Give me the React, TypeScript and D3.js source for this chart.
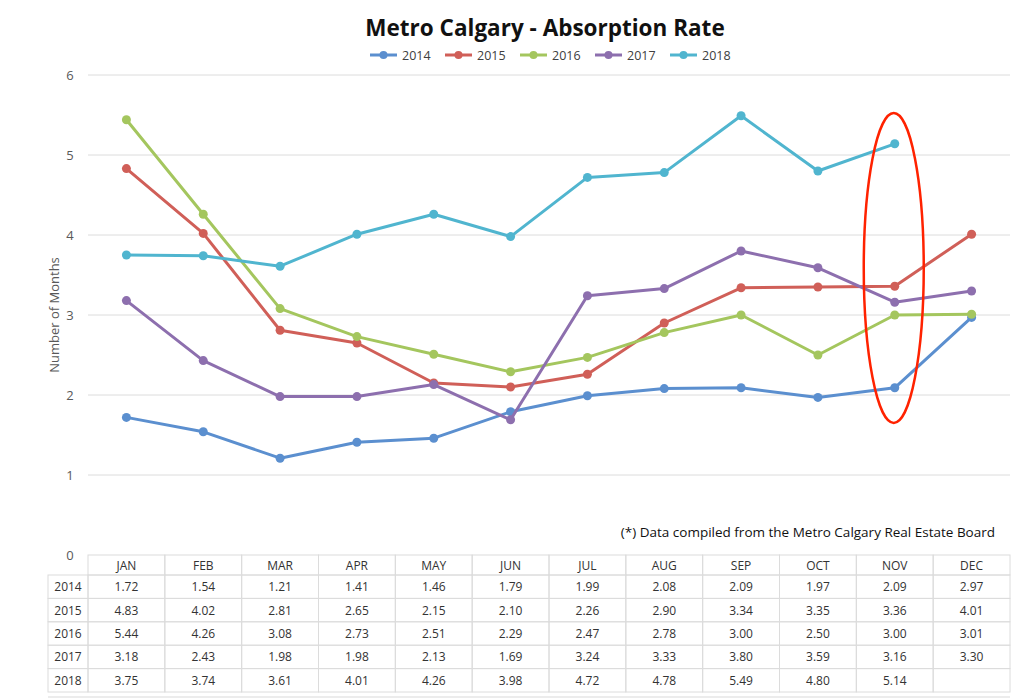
import React, { useRef, useEffect } from 'react';
import * as d3 from 'd3';

const W = 1024;
const H = 699;

const MONTHS = ['JAN', 'FEB', 'MAR', 'APR', 'MAY', 'JUN', 'JUL', 'AUG', 'SEP', 'OCT', 'NOV', 'DEC'];
const YEARS = ['2014', '2015', '2016', '2017', '2018'];
const COLORS = ['#5B8FCF', '#D05F58', '#A4C65E', '#8D6FAE', '#50B5CF'];

const V2014 = [1.72, 1.54, 1.21, 1.41, 1.46, 1.79, 1.99, 2.08, 2.09, 1.97, 2.09, 2.97];
const V2015 = [4.83, 4.02, 2.81, 2.65, 2.15, 2.1, 2.26, 2.9, 3.34, 3.35, 3.36, 4.01];
const V2016 = [5.44, 4.26, 3.08, 2.73, 2.51, 2.29, 2.47, 2.78, 3.0, 2.5, 3.0, 3.01];
const V2017 = [3.18, 2.43, 1.98, 1.98, 2.13, 1.69, 3.24, 3.33, 3.8, 3.59, 3.16, 3.3];
const V2018: (number | null)[] = [3.75, 3.74, 3.61, 4.01, 4.26, 3.98, 4.72, 4.78, 5.49, 4.8, 5.14, null];
const SERIES = [V2014, V2015, V2016, V2017, V2018];

const Y_TICKS = [0, 1, 2, 3, 4, 5, 6];
const FONT = '"Open Sans", "Liberation Sans", sans-serif';

export default function App() {
  const svgRef = useRef<SVGSVGElement>(null);

  useEffect(() => {
    if (!svgRef.current) return;
    const svg = d3.select(svgRef.current);
    svg.selectAll('*').remove();

    const x = d3.scaleBand<string>().domain(MONTHS).range([88, 1010]);
    const y = d3.scaleLinear().domain([0, 6]).range([555, 75]);

    // gridlines
    svg.append('g')
      .selectAll('line')
      .data(Y_TICKS.filter((t) => t > 0))
      .join('line')
      .attr('x1', 88)
      .attr('x2', 1010)
      .attr('y1', (d) => y(d))
      .attr('y2', (d) => y(d))
      .attr('stroke', '#dcdcdc')
      .attr('stroke-width', 1);

    // y tick labels
    svg.append('g')
      .selectAll('text')
      .data(Y_TICKS)
      .join('text')
      .attr('x', 70)
      .attr('y', (d) => y(d) + 4.5)
      .attr('text-anchor', 'middle')
      .attr('fill', '#595959')
      .attr('font-size', 13)
      .attr('font-family', FONT)
      .text((d) => d);

    svg.append('text')
      .attr('transform', `translate(59, ${y(3)}) rotate(-90)`)
      .attr('text-anchor', 'middle')
      .attr('fill', '#595959')
      .attr('font-size', 13)
      .attr('font-family', FONT)
      .text('Number of Months');

    // title
    svg.append('text')
      .attr('x', 545)
      .attr('y', 36)
      .attr('text-anchor', 'middle')
      .attr('fill', '#111')
      .attr('font-size', 22.5)
      .attr('font-weight', 'bold')
      .attr('font-family', FONT)
      .text('Metro Calgary - Absorption Rate');

    // legend
    const lg = svg.append('g');
    YEARS.forEach((yr, i) => {
      const lx = 370 + i * 75;
      lg.append('line')
        .attr('x1', lx).attr('x2', lx + 27)
        .attr('y1', 55).attr('y2', 55)
        .attr('stroke', COLORS[i]).attr('stroke-width', 3);
      lg.append('circle')
        .attr('cx', lx + 13.5).attr('cy', 55).attr('r', 4)
        .attr('fill', COLORS[i]);
      lg.append('text')
        .attr('x', lx + 32).attr('y', 59.5)
        .attr('fill', '#404040')
        .attr('font-size', 12.5)
        .attr('font-family', FONT)
        .text(yr);
    });

    // series
    const cx = (i: number) => (x(MONTHS[i]) ?? 0) + x.bandwidth() / 2;
    SERIES.forEach((vals, si) => {
      const pts = vals.map((v, i) => ({ v, i })).filter((p) => p.v != null) as { v: number; i: number }[];
      const line = d3.line<{ v: number; i: number }>()
        .x((d) => cx(d.i))
        .y((d) => y(d.v));
      svg.append('path')
        .attr('d', line(pts) ?? '')
        .attr('fill', 'none')
        .attr('stroke', COLORS[si])
        .attr('stroke-width', 3)
        .attr('stroke-linejoin', 'round');
      svg.append('g')
        .selectAll('circle')
        .data(pts)
        .join('circle')
        .attr('cx', (d) => cx(d.i))
        .attr('cy', (d) => y(d.v))
        .attr('r', 4.5)
        .attr('fill', COLORS[si]);
    });

    // red highlight ellipse around NOV
    svg.append('ellipse')
      .attr('cx', cx(10) - 1)
      .attr('cy', 268)
      .attr('rx', 30)
      .attr('ry', 155)
      .attr('fill', 'none')
      .attr('stroke', '#FF2200')
      .attr('stroke-width', 2.5);

    // footnote
    svg.append('text')
      .attr('x', 995)
      .attr('y', 537)
      .attr('text-anchor', 'end')
      .attr('fill', '#111')
      .attr('font-size', 13.5)
      .attr('font-family', FONT)
      .text('(*) Data compiled from the Metro Calgary Real Estate Board');

    // data table
    const headTop = 555;
    const rowTop = 575;
    const rowH = (692 - rowTop) / YEARS.length;
    const tb = svg.append('g');
    const border = '#dcdcdc';

    // header cells
    MONTHS.forEach((m) => {
      tb.append('rect')
        .attr('x', x(m) ?? 0).attr('y', headTop)
        .attr('width', x.bandwidth()).attr('height', rowTop - headTop)
        .attr('fill', 'none').attr('stroke', border);
      tb.append('text')
        .attr('x', (x(m) ?? 0) + x.bandwidth() / 2)
        .attr('y', headTop + 15)
        .attr('text-anchor', 'middle')
        .attr('fill', '#333')
        .attr('font-size', 12)
        .attr('font-family', FONT)
        .text(m);
    });

    YEARS.forEach((yr, r) => {
      const ry = rowTop + r * rowH;
      tb.append('rect')
        .attr('x', 48).attr('y', ry)
        .attr('width', 40).attr('height', rowH)
        .attr('fill', 'none').attr('stroke', border);
      tb.append('text')
        .attr('x', 68).attr('y', ry + rowH / 2 + 4.5)
        .attr('text-anchor', 'middle')
        .attr('fill', '#333')
        .attr('font-size', 12)
        .attr('font-family', FONT)
        .text(yr);
      SERIES[r].forEach((v, i) => {
        tb.append('rect')
          .attr('x', x(MONTHS[i]) ?? 0).attr('y', ry)
          .attr('width', x.bandwidth()).attr('height', rowH)
          .attr('fill', 'none').attr('stroke', border);
        if (v != null) {
          tb.append('text')
            .attr('x', cx(i)).attr('y', ry + rowH / 2 + 4.5)
            .attr('text-anchor', 'middle')
            .attr('fill', '#333')
            .attr('font-size', 12)
            .attr('font-family', FONT)
            .text(v.toFixed(2));
        }
      });
    });

    svg.append('line')
      .attr('x1', 48).attr('x2', 1010)
      .attr('y1', 697).attr('y2', 697)
      .attr('stroke', '#e6e6e6').attr('stroke-width', 1.5);
  }, []);

  return (
    <svg
      ref={svgRef}
      width={W}
      height={H}
      style={{ position: 'absolute', left: 0, top: 0, background: '#fff' }}
    />
  );
}
